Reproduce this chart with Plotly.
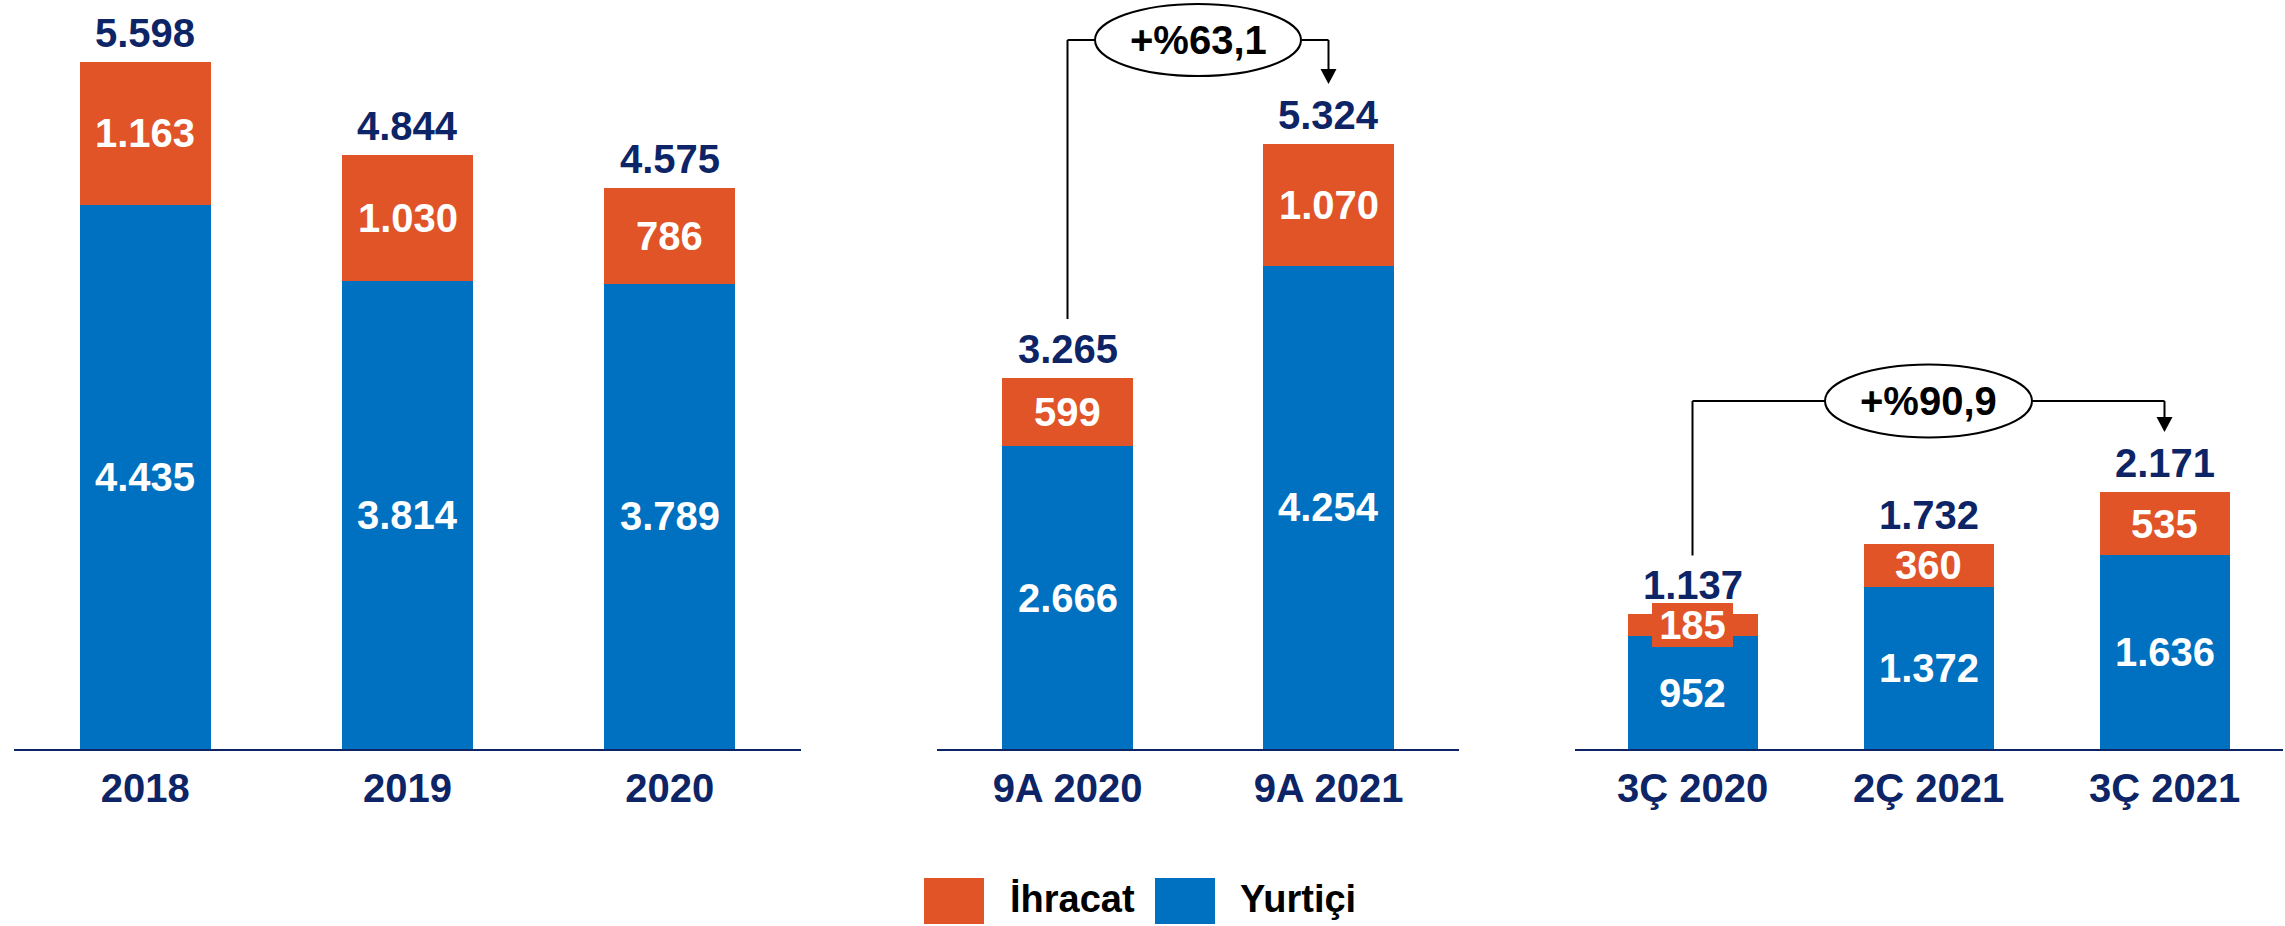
import plotly.graph_objects as go

# ---------------- data ----------------
cats1 = ["2018", "2019", "2020"]
yurtici1 = [4435, 3814, 3789]
ihracat1 = [1163, 1030, 786]

cats2 = ["9A 2020", "9A 2021"]
yurtici2 = [2666, 4254]
ihracat2 = [599, 1070]

cats3 = ["3Ç 2020", "2Ç 2021", "3Ç 2021"]
yurtici3 = [952, 1372, 1636]
ihracat3 = [185, 360, 535]

growth2 = "+%63,1"
growth3 = "+%90,9"

name_dom = "Yurtiçi"
name_exp = "İhracat"

# ---------------- style ----------------
W, H = 2285, 926
BASE = 749          # pixel row of the baseline (plot bottom)
PH = BASE           # plot height in px (top margin 0)
BLUE = "#0070C0"
ORANGE = "#E05428"
NAVY = "#0D2566"
FONT = "Liberation Sans, Arial, sans-serif"

panels = [
    dict(cats=cats1, dom=yurtici1, exp=ihracat1, x0=14, x1=801, ymax=6103, bw=0.5),
    dict(cats=cats2, dom=yurtici2, exp=ihracat2, x0=937, x1=1459, ymax=6591, bw=0.5),
    dict(cats=cats3, dom=yurtici3, exp=ihracat3, x0=1574.5, x1=2282.5, ymax=6327, bw=0.555),
]


def fmt(v):
    return f"{v:,}".replace(",", ".")


def paper_y(px):
    return (BASE - px) / PH


fig = go.Figure()
annotations = []
shapes = []
axes = {}

for k, p in enumerate(panels, start=1):
    xa = "x" if k == 1 else f"x{k}"
    ya = "y" if k == 1 else f"y{k}"
    n = len(p["cats"])
    idx = list(range(n))
    fig.add_trace(go.Bar(x=idx, y=p["dom"], name=name_dom, marker=dict(color=BLUE, line=dict(width=0)),
                         width=p["bw"], xaxis=xa, yaxis=ya, showlegend=False, hoverinfo="skip"))
    fig.add_trace(go.Bar(x=idx, y=p["exp"], name=name_exp, marker=dict(color=ORANGE, line=dict(width=0)),
                         width=p["bw"], xaxis=xa, yaxis=ya, showlegend=False, hoverinfo="skip"))
    px_per_unit = PH / p["ymax"]
    for i, d, e in zip(idx, p["dom"], p["exp"]):
        annotations.append(dict(x=i, y=d / 2, xref=xa, yref=ya, text=fmt(d), showarrow=False,
                                xanchor="center", yanchor="middle",
                                font=dict(family=FONT, size=40, color="white", weight="bold")))
        ann = dict(x=i, y=d + e / 2, xref=xa, yref=ya, text=fmt(e), showarrow=False,
                   xanchor="center", yanchor="middle",
                   font=dict(family=FONT, size=40, color="white", weight="bold"))
        if e * px_per_unit < 40:
            ann.update(bgcolor=ORANGE, width=81, borderpad=0, borderwidth=0)
        annotations.append(ann)
        annotations.append(dict(x=i, y=d + e, xref=xa, yref=ya, text=fmt(d + e), showarrow=False,
                                xanchor="center", yanchor="bottom", yshift=5,
                                font=dict(family=FONT, size=40, color=NAVY, weight="bold")))

    axes["xaxis" if k == 1 else f"xaxis{k}"] = dict(
        domain=[p["x0"] / W, p["x1"] / W], anchor=ya, type="linear",
        range=[-0.5, n - 0.5], tickmode="array", tickvals=idx, ticktext=p["cats"],
        showline=True, linecolor=NAVY, linewidth=2, showgrid=False, zeroline=False,
        ticks="", ticklabelstandoff=3, fixedrange=True,
        tickfont=dict(family=FONT, size=40, color=NAVY, weight="bold"))
    axes["yaxis" if k == 1 else f"yaxis{k}"] = dict(
        domain=[0, 1], anchor=xa, range=[0, p["ymax"]], visible=False, fixedrange=True)


def connector(k, i0, i1, level_px, text, half_w, half_h):
    p = panels[k - 1]
    xa = f"x{k}"
    ppu = PH / p["ymax"]
    tot = [d + e for d, e in zip(p["dom"], p["exp"])]
    start_px = BASE - tot[i0] * ppu - 59
    tip_px = BASE - tot[i1] * ppu - 60
    head_px = tip_px - 15
    line = dict(color="black", width=2)
    shapes.append(dict(type="line", xref=xa, yref="paper", x0=i0, x1=i0,
                       y0=paper_y(start_px), y1=paper_y(level_px), line=line))
    shapes.append(dict(type="line", xref=xa, yref="paper", x0=i0, x1=i1,
                       y0=paper_y(level_px), y1=paper_y(level_px), line=line))
    shapes.append(dict(type="line", xref=xa, yref="paper", x0=i1, x1=i1,
                       y0=paper_y(level_px), y1=paper_y(head_px), line=line))
    shapes.append(dict(type="path", xref=xa, yref="paper", xsizemode="pixel", xanchor=i1,
                       path=f"M -8,{paper_y(head_px)} L 8,{paper_y(head_px)} L 0,{paper_y(tip_px)} Z",
                       fillcolor="black", line=dict(width=0)))
    cx = (i0 + i1) / 2
    shapes.append(dict(type="circle", xref=xa, yref="paper", xsizemode="pixel", xanchor=cx,
                       x0=-half_w, x1=half_w, y0=paper_y(level_px + half_h), y1=paper_y(level_px - half_h),
                       fillcolor="white", line=dict(color="black", width=2)))
    annotations.append(dict(x=cx, y=paper_y(level_px), xref=xa, yref="paper", text=text, showarrow=False,
                            xanchor="center", yanchor="middle",
                            font=dict(family=FONT, size=40, color="black", weight="bold")))


connector(2, 0, len(cats2) - 1, 40, growth2, 103, 36)
connector(3, 0, len(cats3) - 1, 401, growth3, 103.5, 36.5)

# custom legend (large square swatches)
legend_items = [(name_exp, ORANGE, 924, 984, 1008), (name_dom, BLUE, 1155, 1215, 1238)]
for name, col, sx0, sx1, tx in legend_items:
    shapes.append(dict(type="rect", xref="paper", yref="paper", x0=sx0 / W, x1=sx1 / W,
                       y0=paper_y(924), y1=paper_y(878), fillcolor=col, line=dict(width=0)))
    annotations.append(dict(x=tx / W, y=paper_y(899), xref="paper", yref="paper", text=name,
                            xanchor="left", yanchor="middle", showarrow=False,
                            font=dict(family=FONT, size=38, color="black", weight="bold")))

fig.update_layout(
    width=W, height=H, barmode="stack", bargap=0,
    margin=dict(l=0, r=0, t=0, b=H - BASE, pad=0),
    paper_bgcolor="white", plot_bgcolor="white",
    showlegend=False, annotations=annotations, shapes=shapes,
    **axes,
)

fig.write_html("out.html", config={"displayModeBar": False},
               post_script="document.body.style.margin='0';document.body.style.overflow='hidden';")
